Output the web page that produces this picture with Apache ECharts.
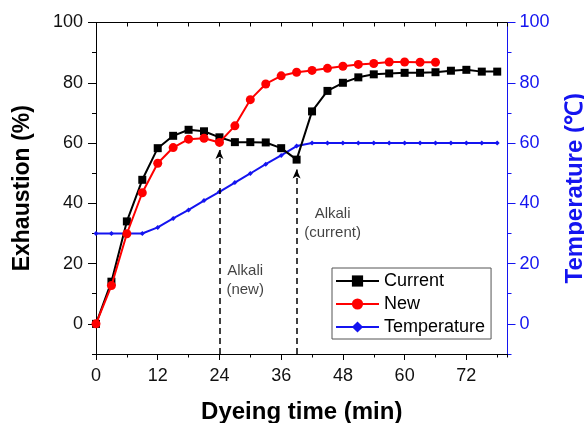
<!DOCTYPE html>
<html><head><meta charset="utf-8">
<script src="https://cdn.jsdelivr.net/npm/echarts@6/dist/echarts.min.js"></script>
<style>html,body{margin:0;padding:0;background:#fff}#c{width:584px;height:423px}</style>
</head><body><div id="c"></div>
<script>
// ---- data ----
const timeAll = [0,3,6,9,12,15,18,21,24,27,30,33,36,39,42,45,48,51,54,57,60,63,66,69,72,75,78];
const currentVals = [0,14,34,47.8,58.3,62.4,64.4,63.9,61.9,60.3,60.3,60.2,58.3,54.5,70.5,77.3,80,81.8,82.8,83.1,83.3,83.3,83.5,84,84.3,83.7,83.7];
const newTimes = [0,3,6,9,12,15,18,21,24,27,30,33,36,39,42,45,48,51,54,57,60,63,66];
const newVals = [0,12.7,29.9,43.5,53.3,58.5,61.3,61.6,60.2,65.7,74.4,79.6,82.3,83.5,84.1,84.8,85.5,86.1,86.4,86.9,86.9,86.8,86.8];
const tempVals = [30,30,30,30,32,35,37.8,40.9,43.8,46.9,49.9,53,55.9,59,60,60,60,60,60,60,60,60,60,60,60,60,60];
const xTicks = [0,12,24,36,48,60,72];
const yTicks = [0,20,40,60,80,100];
const alkaliTimes = [24,39];
const alkaliTips = [57.7,51.2];
const noteTexts = ['Alkali\n(new)','Alkali\n(current)'];
const noteX = [29,46];
const noteY = [14.6,33.2];

const FONT = '"Liberation Sans", Arial, sans-serif';
const BLUE = '#1414f0';

const chart = echarts.init(document.getElementById('c'), null, {renderer:'canvas'});

const baseY = {min:-10, max:100, splitLine:{show:false}};
const option = {
  animation:false,
  backgroundColor:'#fff',
  grid:{left:96, right:76.5, top:22.5, bottom:69, containLabel:false, outerBoundsMode:'none'},
  legend:{
    data:['Current','New','Temperature'],
    orient:'vertical', left:332, top:268,
    padding:[4,6,3,3], itemGap:5, itemWidth:43, itemHeight:14,
    borderColor:'#555', borderWidth:1,
    textStyle:{fontFamily:FONT, fontSize:18, color:'#000', lineHeight:18}
  },
  xAxis:[
    {type:'value', position:'bottom', min:0, max:80, interval:6,
     name:'Dyeing time (min)', nameLocation:'middle', nameGap:46,
     nameTextStyle:{fontFamily:FONT, fontSize:24, fontWeight:'bold', color:'#000'},
     axisLine:{onZero:false, lineStyle:{color:'#000', width:1}},
     axisTick:{show:true, inside:false, length:3.5, lineStyle:{color:'#000'}},
     axisLabel:{customValues:xTicks, fontFamily:FONT, fontSize:18, color:'#111', margin:13},
     splitLine:{show:false}},
    {type:'value', position:'bottom', min:0, max:80,
     axisLine:{onZero:false, lineStyle:{color:'#000', width:1}},
     axisTick:{show:true, customValues:xTicks, length:6, lineStyle:{color:'#000'}},
     axisLabel:{show:false}, splitLine:{show:false}},
    {type:'value', position:'top', min:0, max:80, interval:6,
     axisLine:{onZero:false, lineStyle:{color:'#000', width:1}},
     axisTick:{show:true, inside:true, length:4, lineStyle:{color:'#000'}},
     axisLabel:{show:false}, splitLine:{show:false}}
  ],
  yAxis:[
    Object.assign({type:'value', position:'left', interval:10,
     name:'Exhaustion (%)', nameLocation:'middle', nameGap:62,
     nameTextStyle:{fontFamily:FONT, fontSize:23, fontWeight:'bold', color:'#000'},
     axisLine:{show:true, onZero:false, lineStyle:{color:'#000', width:1}},
     axisTick:{show:true, length:4, lineStyle:{color:'#000'}},
     axisLabel:{customValues:yTicks, fontFamily:FONT, fontSize:18, color:'#111', margin:13}}, baseY),
    Object.assign({type:'value', position:'right', interval:10,
     name:'Temperature (℃)', nameLocation:'middle', nameGap:56,
     nameTextStyle:{fontFamily:FONT, fontSize:24, fontWeight:'bold', color:BLUE},
     axisLine:{show:true, onZero:false, lineStyle:{color:BLUE, width:1}},
     axisTick:{show:true, length:4, lineStyle:{color:BLUE}},
     axisLabel:{customValues:yTicks, fontFamily:FONT, fontSize:18, color:BLUE, margin:12}}, baseY),
    Object.assign({type:'value', position:'left',
     axisLine:{show:true, onZero:false, lineStyle:{color:'#000', width:1}},
     axisTick:{show:true, customValues:yTicks, length:8, lineStyle:{color:'#000'}},
     axisLabel:{show:false}}, baseY),
    Object.assign({type:'value', position:'right',
     axisLine:{show:true, onZero:false, lineStyle:{color:BLUE, width:1}},
     axisTick:{show:true, customValues:yTicks, length:8, lineStyle:{color:BLUE}},
     axisLabel:{show:false}}, baseY)
  ],
  series:[
    {name:'Current', type:'line', xAxisIndex:0, yAxisIndex:0,
     data:timeAll.map((t,i)=>[t,currentVals[i]]),
     symbol:'rect', symbolSize:8, color:'#000',
     lineStyle:{color:'#000', width:2}, itemStyle:{color:'#000'}, z:4,
     markLine:{silent:true, symbol:['none','arrow'], symbolSize:[6,9],
       label:{show:false},
       lineStyle:{color:'#000', type:[6,4], width:1.5},
       data:alkaliTimes.map((t,i)=>[{coord:[t,-10]},{coord:[t,alkaliTips[i]]}])}},
    {name:'New', type:'line', xAxisIndex:0, yAxisIndex:0,
     data:newTimes.map((t,i)=>[t,newVals[i]]),
     symbol:'circle', symbolSize:9, color:'#ff0000',
     lineStyle:{color:'#ff0000', width:2}, itemStyle:{color:'#ff0000'}, z:5},
    {name:'Temperature', type:'line', xAxisIndex:0, yAxisIndex:1,
     data:timeAll.map((t,i)=>[t,tempVals[i]]),
     symbol:'diamond', symbolSize:5, color:BLUE,
     lineStyle:{color:BLUE, width:2}, itemStyle:{color:BLUE}, z:3},
    {name:'notes', type:'scatter', xAxisIndex:0, yAxisIndex:0, silent:true,
     symbolSize:0,
     data:noteX.map((x,i)=>({value:[x,noteY[i]], name:noteTexts[i]})),
     label:{show:true, position:'inside', formatter:p=>p.name, align:'center',
       fontFamily:FONT, fontSize:15, lineHeight:19, color:'#111'}}
  ]
};
chart.setOption(option);
</script>
</body></html>
